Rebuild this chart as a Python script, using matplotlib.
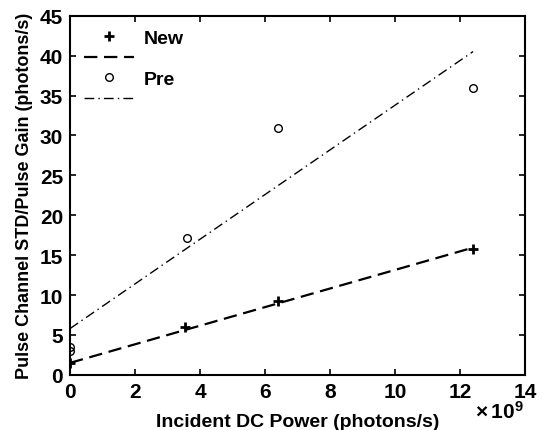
import numpy as np
import matplotlib.pyplot as plt

plt.rcParams['font.family'] = ['Liberation Sans', 'DejaVu Sans']
plt.rcParams['font.weight'] = 'bold'
plt.rcParams['mathtext.default'] = 'regular'

# measured points (power in units of 1e9 photons/s)
new_x = [0.0, 3.55, 6.4, 12.4]
new_y = [1.5, 6.0, 9.3, 15.8]
pre_x = [0.0, 0.0, 3.6, 6.4, 12.4]
pre_y = [3.0, 3.5, 17.2, 31.0, 36.0]

# fitted lines: slope, intercept
new_fit = (1.165, 1.5)
pre_fit = (2.8, 5.8)
fit_x = [0.0, 12.4]

fig = plt.figure(figsize=(5.43, 4.31), dpi=100)
ax = fig.add_axes([0.129, 0.128, 0.838, 0.833])

xs = np.array(fit_x)
h1, = ax.plot(new_x, new_y, '+', color='black', ms=7, mew=2)
h2, = ax.plot(xs, new_fit[0] * xs + new_fit[1], color='black', lw=1.6,
              dashes=(6, 3))
h3, = ax.plot(pre_x, pre_y, 'o', color='black', mfc='none', ms=5.5, mew=1)
h4, = ax.plot(xs, pre_fit[0] * xs + pre_fit[1], color='black', lw=1,
              dashes=(7, 3, 1, 3))

ax.set_xlim(0, 14)
ax.set_ylim(0, 45)
ax.set_xticks(np.arange(0, 15, 2))
ax.set_yticks(np.arange(0, 46, 5))
ax.tick_params(direction='in', labelsize=15, width=1.2, length=4, top=True, right=True,
               labeltop=False, labelright=False, pad=5)
for s in ax.spines.values():
    s.set_linewidth(1.5)

ax.set_xlabel('Incident DC Power (photons/s)', fontsize=14, fontweight='bold', labelpad=9)
ax.set_ylabel('Pulse Channel STD/Pulse Gain (photons/s)', fontsize=13, fontweight='bold',
              labelpad=5)
fig.text(0.965, 0.02, r'$\times\,10^9$', fontsize=15, ha='right', va='bottom')

ax.legend([h1, h2, h3, h4], ['New', '', 'Pre', ''], loc='upper left', frameon=False,
          fontsize=14, handlelength=2.6, labelspacing=0.15, borderaxespad=0.3,
          handletextpad=0.5)

fig.savefig('out.png', dpi=100)
